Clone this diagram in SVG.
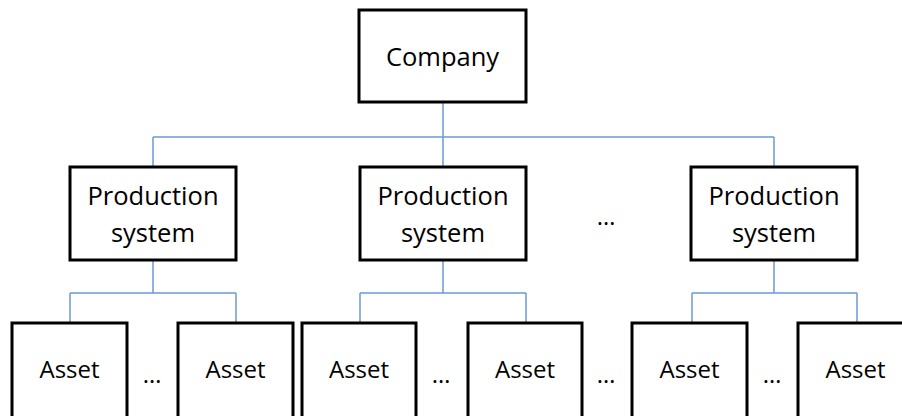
<svg xmlns="http://www.w3.org/2000/svg" width="902" height="416" viewBox="0 0 902 416">
  <style>
    .box { fill: #ffffff; stroke: #000000; stroke-width: 3; }
    .lbl { font-family: "Open Sans", "Liberation Sans", sans-serif; font-size: 25.5px; fill: #000000; text-anchor: middle; }
    .small { font-size: 24px; }
    .link { fill: none; stroke: #6a9bd6; stroke-width: 1.5; }
  </style>
  <rect width="902" height="416" fill="#ffffff"/>

  <g id="connectors">
    <!-- company to production systems -->
    <path class="link" d="M443 102 V167 M153 137 H774 M153 137 V167 M774 137 V167"/>
    <!-- production systems to assets -->
    <path class="link" d="M153 260 V293 M70 293 H236 M70 293 V323 M236 293 V323"/>
    <path class="link" d="M443 260 V293 M360 293 H526 M360 293 V323 M526 293 V323"/>
    <path class="link" d="M774 260 V293 M692 293 H857 M692 293 V323 M857 293 V323"/>
  </g>

  <g id="company">
    <rect class="box" x="359" y="10" width="167" height="92"/>
    <text class="lbl" x="442.5" y="66">Company</text>
  </g>

  <g id="ps1">
    <rect class="box" x="70" y="167" width="166" height="93"/>
    <text class="lbl" x="153" y="205">Production</text>
    <text class="lbl" x="153" y="242">system</text>
  </g>
  <g id="ps2">
    <rect class="box" x="360" y="167" width="166" height="93"/>
    <text class="lbl" x="443" y="205">Production</text>
    <text class="lbl" x="443" y="242">system</text>
  </g>
  <g id="ps3">
    <rect class="box" x="691" y="167" width="166" height="93"/>
    <text class="lbl" x="774" y="205">Production</text>
    <text class="lbl" x="774" y="242">system</text>
  </g>

  <g id="asset1">
    <rect class="box" x="12" y="323" width="115" height="100"/>
    <text class="lbl small" x="69.5" y="378">Asset</text>
  </g>
  <g id="asset2">
    <rect class="box" x="178" y="323" width="115" height="100"/>
    <text class="lbl small" x="235.5" y="378">Asset</text>
  </g>
  <g id="asset3">
    <rect class="box" x="302" y="323" width="114" height="100"/>
    <text class="lbl small" x="359" y="378">Asset</text>
  </g>
  <g id="asset4">
    <rect class="box" x="468" y="323" width="114" height="100"/>
    <text class="lbl small" x="525" y="378">Asset</text>
  </g>
  <g id="asset5">
    <rect class="box" x="632" y="323" width="115" height="100"/>
    <text class="lbl small" x="689.5" y="378">Asset</text>
  </g>
  <g id="asset6">
    <rect class="box" x="798" y="323" width="115" height="100"/>
    <text class="lbl small" x="855.5" y="378">Asset</text>
  </g>

  <g id="ellipses">
    <text class="lbl small" x="606" y="225">…</text>
    <text class="lbl small" x="152" y="383">…</text>
    <text class="lbl small" x="441" y="383">…</text>
    <text class="lbl small" x="606" y="383">…</text>
    <text class="lbl small" x="772" y="383">…</text>
  </g>
</svg>
